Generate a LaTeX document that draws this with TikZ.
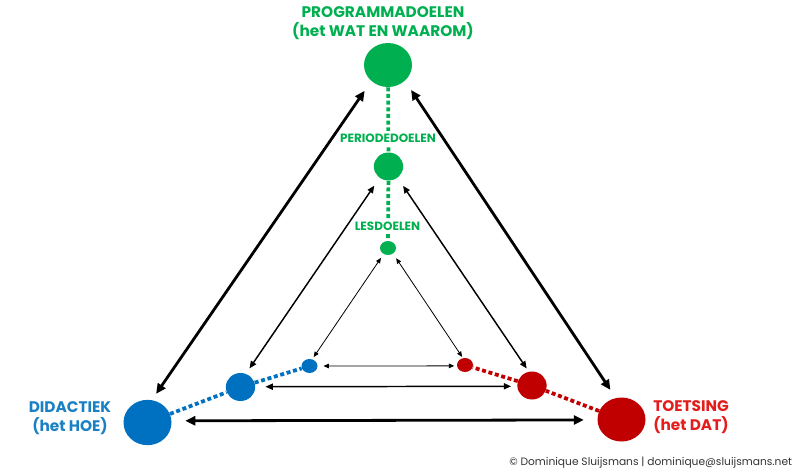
\documentclass[tikz,border=0pt]{standalone}
\usepackage{fontspec}
\setmainfont{Poppins}
\usetikzlibrary{arrows.meta,shapes.geometric,backgrounds}
\definecolor{gC}{HTML}{00B050}
\definecolor{bC}{HTML}{0070C0}
\definecolor{rC}{HTML}{C00000}
\definecolor{bT}{HTML}{1A80C4}
\definecolor{rT}{HTML}{E41C1C}
\definecolor{cpT}{HTML}{333333}
\tikzset{
  dotbig/.style={ellipse,inner sep=0pt,minimum width=36pt,minimum height=33pt},
  dotmid/.style={ellipse,inner sep=0pt,minimum width=22pt,minimum height=21pt},
  dotsml/.style={ellipse,inner sep=0pt,minimum width=12pt,minimum height=10.5pt},
  dotline/.style={line width=2.8pt,dash pattern=on 3pt off 2pt},
  bigarr/.style={line width=2.1pt,arrows={Triangle[length=7.5pt,width=6.8pt]-Triangle[length=7.5pt,width=6.8pt]}},
  midarr/.style={line width=1.1pt,arrows={Triangle[length=5.5pt,width=4.6pt]-Triangle[length=5.5pt,width=4.6pt]}},
  smlarr/.style={line width=0.6pt,arrows={Triangle[length=4pt,width=3.4pt]-Triangle[length=4pt,width=3.4pt]}},
  mainlbl/.style={font=\bfseries\fontsize{11.5}{13.8}\selectfont,inner sep=0pt},
  sublbl/.style={font=\bfseries\fontsize{9}{10}\selectfont,text=gC,fill=white,inner xsep=1pt,inner ysep=2pt},
}
\begin{document}
\begin{tikzpicture}[x=0.75pt,y=-0.75pt]
\useasboundingbox (0,0) rectangle (800,472);
% circles
\node[dotbig,fill=gC] (G) at (388,65) {};
\node[dotmid,fill=gC] (GM) at (388.5,166.5) {};
\node[dotsml,fill=gC] (GS) at (388,248) {};
\node[dotbig,fill=bC,minimum height=34pt] (B) at (147.5,422.5) {};
\node[dotmid,fill=bC] (BM) at (240.5,387) {};
\node[dotsml,fill=bC] (BS) at (309.5,366) {};
\node[dotbig,fill=rC] (R) at (621.5,419.5) {};
\node[dotmid,fill=rC] (RM) at (532,385.5) {};
\node[dotsml,fill=rC] (RS) at (465,365) {};
% dotted links
\begin{scope}[on background layer]
\draw[dotline,gC] (G) -- (GM) -- (GS);
\draw[dotline,bC] (B) -- (BM) -- (BS);
\draw[dotline,rC] (R) -- (RM) -- (RS);
\end{scope}
% labels
\node[mainlbl,text=gC,align=center] (tG) at (383,23) {PROGRAMMADOELEN\\(het WAT EN WAAROM)};
\node[sublbl] (tGM) at (388,138) {PERIODEDOELEN};
\node[sublbl] (tGS) at (387.5,226.5) {LESDOELEN};
\node[mainlbl,text=bT,align=center] (tB) at (70,418) {DIDACTIEK\\(het HOE)};
\node[mainlbl,text=rT,align=left,anchor=west] (tR) at (653,417) {TOETSING\\(het DAT)};
\node[font=\fontsize{8}{9}\selectfont,text=cpT,anchor=west,inner sep=0pt] (cp) at (509,462.7) {© Dominique Sluijsmans | dominique@sluijsmans.net};
% outer arrows
\draw[bigarr,shorten <=8.8pt,shorten >=5.6pt] (G.224) -- (B.79);
\draw[bigarr,shorten <=8.2pt,shorten >=7.2pt] (G.317) -- (R.105);
\draw[bigarr,shorten <=10.2pt,shorten >=10.1pt] (B.4) -- (R.181);
% middle arrows
\draw[midarr,shorten <=7pt,shorten >=4.8pt] (GM.232) -- (BM.68);
\draw[midarr,shorten <=7.3pt,shorten >=2.8pt] (GM.309) -- (RM.103);
\draw[midarr,shorten <=7.5pt,shorten >=4.5pt] (BM.1) -- (RM.183);
% inner arrows
\draw[smlarr,shorten <=3.4pt,shorten >=1.9pt] (GS.234) -- (BS.68);
\draw[smlarr,shorten <=4.1pt,shorten >=1pt] (GS.312) -- (RS.107);
\draw[smlarr,shorten <=4.3pt,shorten >=1.9pt] (BS.0) -- (RS.186);
\end{tikzpicture}
\end{document}
